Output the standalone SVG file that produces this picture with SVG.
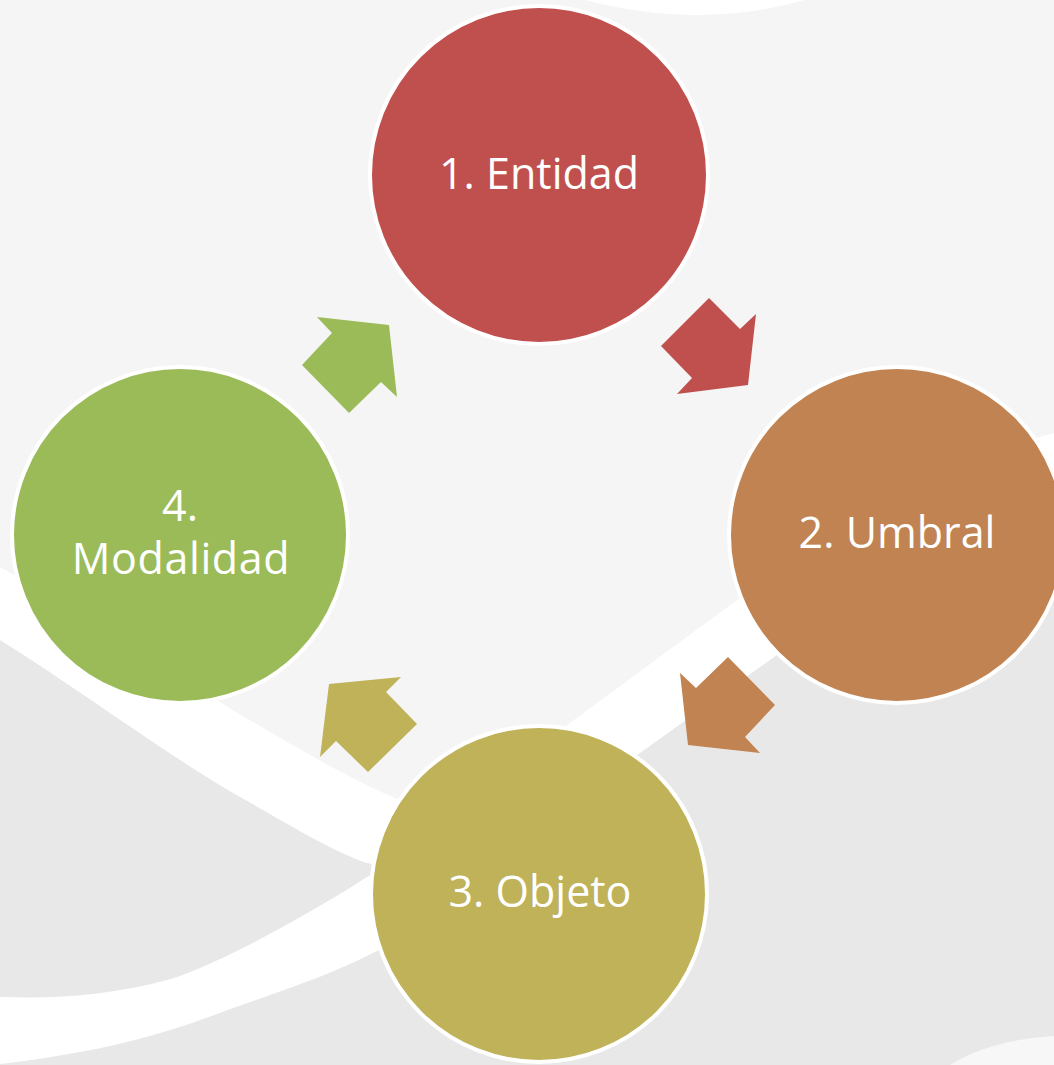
<svg xmlns="http://www.w3.org/2000/svg" width="1054" height="1065" viewBox="0 0 1054 1065">
  <style>
    .node circle { stroke: #ffffff; stroke-width: 4; }
    .lbl { font-family: "Open Sans", "Liberation Sans", sans-serif; font-size: 43px; fill: #ffffff; text-anchor: middle; }
  </style>
  <g id="background">
    <rect x="0" y="0" width="1054" height="1065" fill="#f5f5f5"/>
    <path d="M585,0 Q700,30 805,0 Z" fill="#ffffff"/>
    <path d="M0,567 C90,618 300,760 400,800 C470,830 520,760 570,723 L737,600 C850,520 950,460 1054,433 L1054,1065 L0,1065 Z" fill="#ffffff"/>
    <path d="M0,640 C80,690 160,750 233,793 C290,825 330,850 367,863 C450,880 560,810 640,753 L777,655 C870,590 960,560 1054,545 L1054,1065 L0,1065 Z" fill="#e8e8e8"/>
    <path d="M0,997 C60,999 110,995 167,980 C210,968 300,920 367,877 L480,830 L480,900 L377,951 C330,975 290,988 233,1008 C180,1028 120,1050 0,1064 Z" fill="#ffffff"/>
    <path d="M950,1065 Q990,1040 1054,1036 L1054,1065 Z" fill="#f7f7f7"/>
  </g>
  <g id="connectors">
    <polygon id="arrow-1-2" points="709,298 740,329 756,314 748,385 677,394 692,378 661,346" fill="#c0504d"/>
    <polygon id="arrow-2-3" points="728,657 775,705 745,737 760,753 688,745 680,673 696,688" fill="#c08351"/>
    <polygon id="arrow-3-4" points="329,684 401,677 386,692 417,724 368,772 336,741 320,757" fill="#bfb259"/>
    <polygon id="arrow-4-1" points="317,317 389,325 397,397 381,382 349,413 302,365 332,333" fill="#9bbb59"/>
  </g>
  <g id="node-1" class="node">
    <circle cx="539" cy="175" r="169" fill="#c0504d"/>
    <text class="lbl" x="539" y="189">1. Entidad</text>
  </g>
  <g id="node-2" class="node">
    <circle cx="897" cy="535" r="168" fill="#c08351"/>
    <text class="lbl" x="897" y="548">2. Umbral</text>
  </g>
  <g id="node-3" class="node">
    <circle cx="539" cy="894" r="168" fill="#bfb259"/>
    <text class="lbl" x="540" y="907">3. Objeto</text>
  </g>
  <g id="node-4" class="node">
    <circle cx="180" cy="535" r="168" fill="#9bbb59"/>
    <text class="lbl"><tspan x="180" y="521">4.</tspan><tspan x="181" y="574" letter-spacing="0.6">Modalidad</tspan></text>
  </g>
</svg>
